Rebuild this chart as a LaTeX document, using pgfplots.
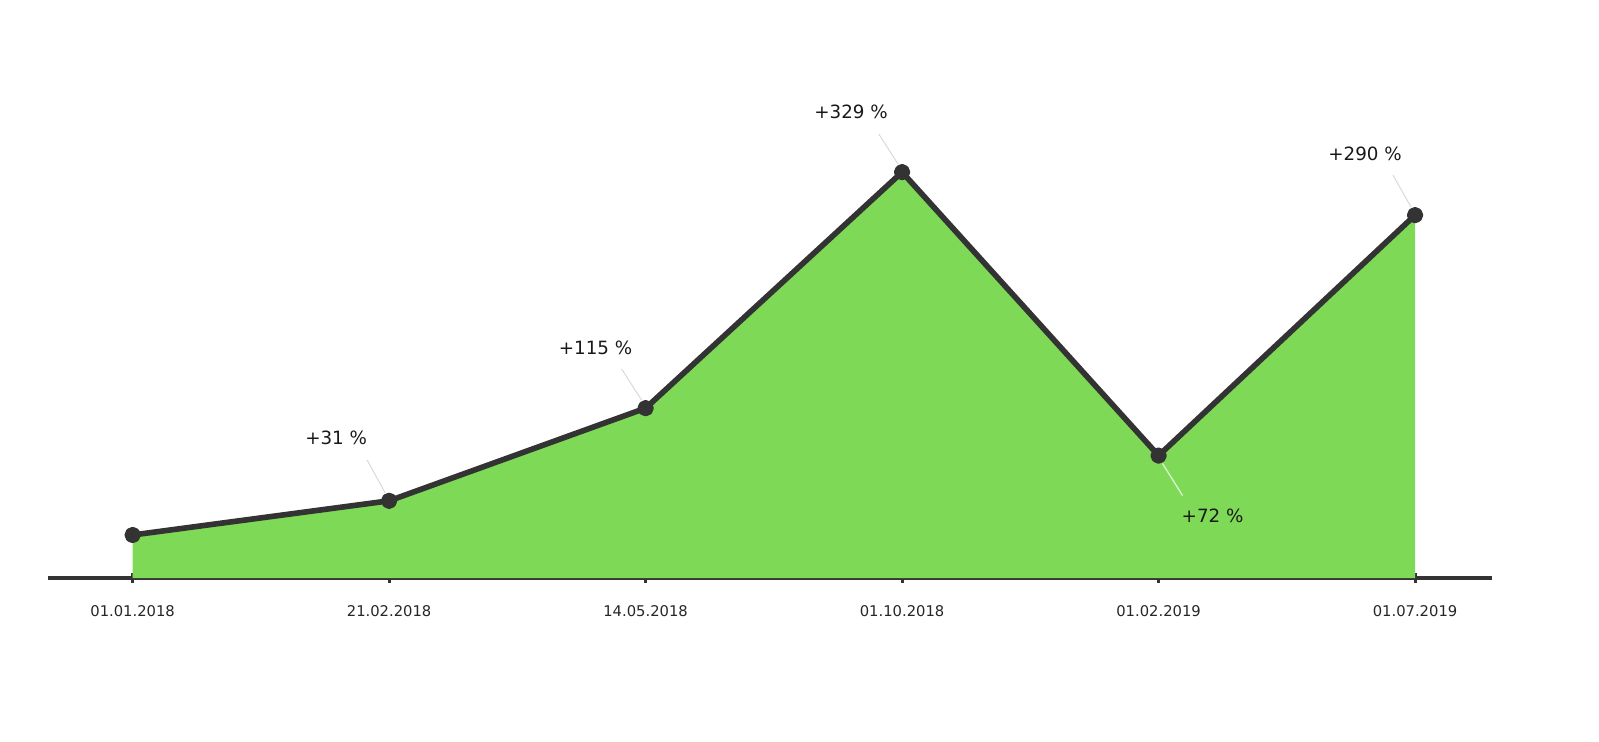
\documentclass[border=0pt]{standalone}
\usepackage{pgfplots}
\pgfplotsset{compat=1.18}
\usepackage{fontspec}
\setmainfont{DejaVu Sans}
\definecolor{areagreen}{HTML}{7ED957}
\definecolor{inkdark}{HTML}{333333}
\definecolor{leader}{HTML}{D8D8D8}

\begin{document}
\begin{tikzpicture}
\begin{axis}[
    scale only axis,
    width=36.1cm,
    height=13.45cm,
    xmin=-0.33, xmax=5.30,
    ymin=61, ymax=548.8,
    axis y line=none,
    axis x line=bottom,
    x axis line style={-, line width=2.4pt, color=inkdark},
    xtick={0,1,2,3,4,5},
    xticklabels={01.01.2018,21.02.2018,14.05.2018,01.10.2018,01.02.2019,01.07.2019},
    xtick align=center,
    major tick length=0.24cm,
    xtick style={line width=2.2pt, color=inkdark},
    xticklabel style={font=\fontsize{10.5}{12}\selectfont, text=black!85, yshift=-0.45cm},
    clip=false,
]
\addplot[fill=areagreen, draw=none] coordinates {
    (0,61) (0,100) (1,131) (2,215) (3,429) (4,172) (5,390) (5,61)
} \closedcycle;
\addplot[line width=4pt, color=inkdark, line join=round,
    mark=*, mark size=3.8pt, mark options={fill=inkdark, draw=inkdark}] coordinates {
    (0,100) (1,131) (2,215) (3,429) (4,172) (5,390)
};
% annotations
\tikzset{lbl/.style={font=\fontsize{13}{15}\selectfont, text=black!90}}
\draw[leader, line width=0.7pt] ([shift={(-0.1cm,0.2cm)}]axis cs:1,131) -- ++(-0.45cm,0.82cm);
\node[lbl] at ([shift={(-1.325cm,1.575cm)}]axis cs:1,131) {+31 \%};
\draw[leader, line width=0.7pt] ([shift={(-0.1cm,0.2cm)}]axis cs:2,215) -- ++(-0.5cm,0.78cm);
\node[lbl] at ([shift={(-1.25cm,1.5cm)}]axis cs:2,215) {+115 \%};
\draw[leader, line width=0.7pt] ([shift={(-0.1cm,0.2cm)}]axis cs:3,429) -- ++(-0.48cm,0.75cm);
\node[lbl] at ([shift={(-1.275cm,1.5cm)}]axis cs:3,429) {+329 \%};
\draw[leader, line width=0.7pt] ([shift={(-0.1cm,0.2cm)}]axis cs:5,390) -- ++(-0.45cm,0.8cm);
\node[lbl] at ([shift={(-1.25cm,1.525cm)}]axis cs:5,390) {+290 \%};
\draw[white!75!areagreen, line width=0.9pt] ([shift={(0.1cm,-0.2cm)}]axis cs:4,172) -- ++(0.5cm,-0.8cm);
\node[lbl] at ([shift={(1.35cm,-1.5cm)}]axis cs:4,172) {+72 \%};
\coordinate (ll) at (rel axis cs:0,0);
\coordinate (ur) at (rel axis cs:1,1);
\end{axis}
\pgfresetboundingbox
\useasboundingbox ([shift={(-1.2cm,-4.075cm)}]ll) rectangle ([shift={(2.675cm,1cm)}]ur);
\end{tikzpicture}
\end{document}
